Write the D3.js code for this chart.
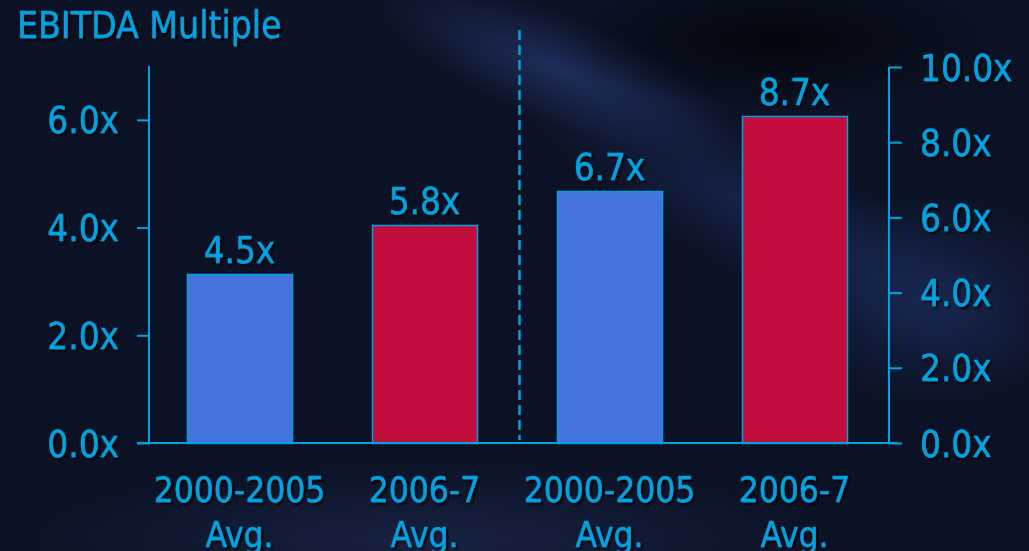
<!DOCTYPE html>
<html>
<head>
<meta charset="utf-8">
<script src="https://cdn.jsdelivr.net/npm/d3@7"></script>
<style>
  html, body { margin: 0; padding: 0; background: #0a1020; }
  svg { display: block; }
  text { font-family: "DejaVu Sans Condensed", "DejaVu Sans", sans-serif; font-stretch: condensed;
         stroke: #00a3e0; stroke-width: 0.4px; }
</style>
</head>
<body>
<div id="chart"></div>
<script>
// chart data
var categories = ["2000-2005|Avg.", "2006-7|Avg.", "2000-2005|Avg.", "2006-7|Avg."];
var values = [4.5, 5.8, 6.7, 8.7];
var barColors = ["#4474dc", "#c20d3c", "#4474dc", "#c20d3c"];
var leftTicks = [0, 2, 4, 6];
var rightTicks = [0, 2, 4, 6, 8, 10];

var width = 1029, height = 551,
    cyan = "#00a3e0";

var svg = d3.select("#chart").append("svg")
    .attr("width", width)
    .attr("height", height);

var defs = svg.append("defs");

var shadow = defs.append("filter").attr("id", "shadow")
    .attr("x", "-10%").attr("y", "-20%").attr("width", "130%").attr("height", "150%");
shadow.append("feDropShadow").attr("dx", 2).attr("dy", 2).attr("stdDeviation", 0.8)
    .attr("flood-color", "#000").attr("flood-opacity", 0.9);

function glow(id, color, op) {
    var g = defs.append("radialGradient").attr("id", id);
    g.append("stop").attr("offset", "0%").attr("stop-color", color).attr("stop-opacity", op);
    g.append("stop").attr("offset", "100%").attr("stop-color", color).attr("stop-opacity", 0);
}
glow("g1", "#223468", 0.8);
glow("g2", "#1a2a58", 0.75);
glow("g3", "#000000", 0.7);
glow("g4", "#1a2649", 0.8);

// background
svg.append("rect").attr("width", width).attr("height", height).attr("fill", "#0b1225");
var bg = svg.append("g");
bg.append("ellipse").attr("cx", 560).attr("cy", 70).attr("rx", 200).attr("ry", 55)
    .attr("transform", "rotate(22,560,70)").attr("fill", "url(#g1)");
bg.append("ellipse").attr("cx", 780).attr("cy", 220).attr("rx", 300).attr("ry", 70)
    .attr("transform", "rotate(28,780,220)").attr("fill", "url(#g2)");
bg.append("ellipse").attr("cx", 930).attr("cy", 300).attr("rx", 160).attr("ry", 110)
    .attr("fill", "url(#g2)");
bg.append("ellipse").attr("cx", 780).attr("cy", 40).attr("rx", 220).attr("ry", 70)
    .attr("fill", "url(#g3)");
bg.append("ellipse").attr("cx", 430).attr("cy", 540).attr("rx", 420).attr("ry", 80)
    .attr("fill", "url(#g4)");

// scales
var x = d3.scaleBand()
    .domain(d3.range(categories.length))
    .range([147, 887])
    .paddingInner(0.43)
    .paddingOuter(0.215);

var yLeft = d3.scaleLinear().domain([0, 7]).range([443, 66]);
var yRight = d3.scaleLinear().domain([0, 10]).range([443, 67]);

var fmt = function(d) { return d.toFixed(1) + "x"; };

// title
svg.append("text")
    .attr("x", 17).attr("y", 38)
    .attr("fill", cyan)
    .attr("font-size", 37)
    .attr("filter", "url(#shadow)")
    .text("EBITDA Multiple");

// bars (all drawn against the right hand scale)
svg.append("g").selectAll("rect")
    .data(values)
    .enter().append("rect")
    .attr("x", function(d, i) { return Math.round(x(i)) + 0.5; })
    .attr("y", function(d) { return Math.round(yRight(d)) + 0.5; })
    .attr("width", Math.round(x.bandwidth()))
    .attr("height", function(d) { return Math.round(yRight(0) - yRight(d)); })
    .attr("fill", function(d, i) { return barColors[i]; })
    .attr("stroke", cyan)
    .attr("stroke-width", 1.5);

// value labels
svg.append("g").selectAll("text")
    .data(values)
    .enter().append("text")
    .attr("x", function(d, i) { return x(i) + x.bandwidth() / 2; })
    .attr("y", function(d) { return yRight(d) - 11; })
    .attr("text-anchor", "middle")
    .attr("fill", cyan)
    .attr("font-size", 36.5)
    .attr("filter", "url(#shadow)")
    .text(fmt);

// axes
var leftAxis = svg.append("g")
    .attr("transform", "translate(149,0)")
    .call(d3.axisLeft(yLeft).tickValues(leftTicks).tickFormat(fmt).tickSize(12).tickPadding(18));

var rightAxis = svg.append("g")
    .attr("transform", "translate(889,0)")
    .call(d3.axisRight(yRight).tickValues(rightTicks).tickFormat(fmt).tickSize(13).tickPadding(18));

[leftAxis, rightAxis].forEach(function(ax) {
    ax.select(".domain").attr("stroke", cyan).attr("stroke-width", 2);
    ax.selectAll(".tick line").attr("stroke", cyan).attr("stroke-width", 2);
    ax.selectAll(".tick text")
        .attr("fill", cyan)
        .attr("font-size", 36.5)
        .attr("font-family", null)
        .attr("dy", "0.36em")
        .attr("filter", "url(#shadow)");
});
leftAxis.select(".domain").attr("d", "M0," + yLeft(7) + "V" + yLeft(0));
rightAxis.select(".domain").attr("d", "M0," + yRight(10) + "V" + yRight(0));

// baseline
svg.append("line")
    .attr("x1", 137).attr("x2", 897)
    .attr("y1", yRight(0)).attr("y2", yRight(0))
    .attr("stroke", cyan).attr("stroke-width", 2);

// divider between the two panels
svg.append("line")
    .attr("x1", 519.5).attr("x2", 519.5)
    .attr("y1", 30).attr("y2", 440)
    .attr("stroke", cyan).attr("stroke-width", 2.5)
    .attr("stroke-dasharray", "10,5");

// category labels
var cat = svg.append("g").selectAll("text")
    .data(categories)
    .enter().append("text")
    .attr("x", function(d, i) { return x(i) + x.bandwidth() / 2; })
    .attr("y", 502)
    .attr("text-anchor", "middle")
    .attr("fill", cyan)
    .attr("font-size", 35)
    .attr("filter", "url(#shadow)");

cat.selectAll("tspan")
    .data(function(d) { return d.split("|"); })
    .enter().append("tspan")
    .attr("x", function() { return d3.select(this.parentNode).attr("x"); })
    .attr("dy", function(d, i) { return i ? 45 : 0; })
    .text(function(d) { return d; });
</script>
</body>
</html>
